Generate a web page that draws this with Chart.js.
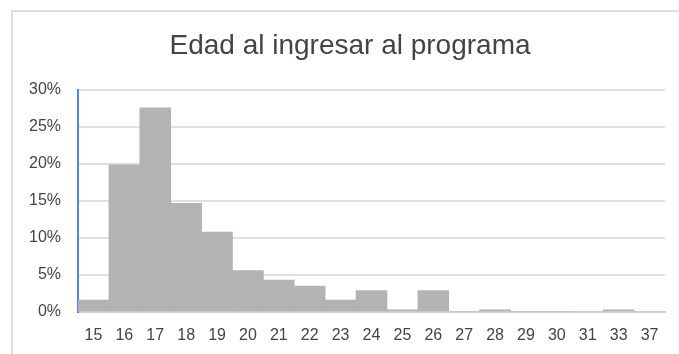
<!DOCTYPE html>
<html>
<head>
<meta charset="utf-8">
<script src="https://cdn.jsdelivr.net/npm/chart.js@4"></script>
<style>
  html, body { margin: 0; padding: 0; background: #fff; }
  canvas { display: block; }
</style>
</head>
<body>
<canvas id="chart" width="679" height="354"></canvas>
<script>
// Age at program entry: share of participants per age (percent)
const ages = ['15','16','17','18','19','20','21','22','23','24','25','26','27','28','29','30','31','33','37'];
const shares = [1.6, 19.9, 27.6, 14.7, 10.8, 5.6, 4.3, 3.5, 1.6, 2.9, 0.3, 2.9, 0, 0.3, 0, 0, 0, 0.3, 0];
const yTicks = [0, 5, 10, 15, 20, 25, 30];
const chartTitle = 'Edad al ingresar al programa';

const FONT = 'Liberation Sans, Arial, Helvetica, sans-serif';

// light frame around the card and the title centred over the whole card
const cardPlugin = {
  id: 'card',
  beforeDraw(chart) {
    const ctx = chart.ctx;
    ctx.save();
    ctx.fillStyle = '#fff';
    ctx.fillRect(0, 0, chart.width, chart.height);
    ctx.strokeStyle = '#dedede';
    ctx.lineWidth = 2;
    ctx.beginPath();
    ctx.moveTo(chart.width + 5, 11);
    ctx.lineTo(12, 11);
    ctx.lineTo(12, chart.height + 5);
    ctx.stroke();
    ctx.restore();
  },
  afterDraw(chart) {
    const ctx = chart.ctx;
    ctx.save();
    ctx.fillStyle = '#444';
    ctx.font = '28px ' + FONT;
    ctx.textAlign = 'center';
    ctx.textBaseline = 'middle';
    ctx.fillText(chartTitle, 350, 45.8);
    ctx.restore();
  }
};

new Chart(document.getElementById('chart'), {
  type: 'bar',
  data: {
    labels: ages,
    datasets: [{
      data: shares,
      backgroundColor: '#b3b3b3',
      borderWidth: 0,
      barPercentage: 1,
      categoryPercentage: 1
    }]
  },
  options: {
    responsive: false,
    animation: false,
    devicePixelRatio: 1,
    layout: { padding: { top: 90, right: 14, bottom: 0, left: 0 } },
    plugins: {
      legend: { display: false },
      tooltip: { enabled: false },
      title: { display: false }
    },
    scales: {
      x: {
        grid: { display: false, drawTicks: false },
        border: { display: true, color: '#d0d0d0', width: 2 },
        ticks: {
          color: '#444',
          font: { family: FONT, size: 16 },
          padding: 14,
          autoSkip: false,
          maxRotation: 0
        },
        afterFit(scale) { scale.height = 42; }
      },
      y: {
        min: 0,
        max: 30,
        afterBuildTicks(scale) { scale.ticks = yTicks.map(v => ({ value: v })); },
        grid: { color: '#e0e0e0', lineWidth: 2, drawTicks: false },
        border: { display: true, color: '#4d84ee', width: 2 },
        ticks: {
          color: '#444',
          font: { family: FONT, size: 16 },
          padding: 17,
          callback: v => v + '%'
        },
        afterFit(scale) { scale.width = 78; }
      }
    }
  },
  plugins: [cardPlugin]
});
</script>
</body>
</html>
